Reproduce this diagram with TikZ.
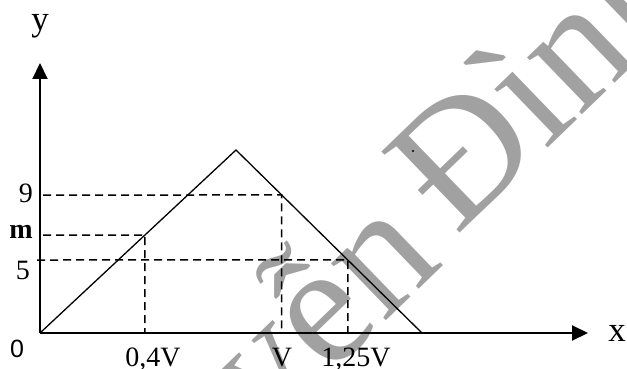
\documentclass[tikz,border=0pt]{standalone}
\usepackage{fontspec}
\setmainfont{Liberation Serif}
\newfontfamily\sansf{Liberation Sans}
\usetikzlibrary{arrows.meta,calc}
\tikzset{
  axisline/.style={line width=2pt,-{Triangle[length=16pt,width=15pt]}},
  graphline/.style={line width=1.3pt,line join=miter},
  guide/.style={line width=1.5pt,dash pattern=on 8pt off 5pt},
  lbl/.style={inner sep=0pt,font=\fontsize{28}{30}\selectfont},
  axlbl/.style={inner sep=0pt,font=\fontsize{35}{36}\selectfont},
  wm/.style={inner sep=0pt,text=black!37,rotate=44,font=\fontsize{172}{174}\selectfont}
}
\begin{document}
\begin{tikzpicture}[x=1pt,y=-1pt]
\useasboundingbox (0,0) rectangle (627,369);
% watermark
\begin{scope}
\clip (0,0) rectangle (627,369);
\coordinate (wmD) at (456,237);
\node[wm,anchor=base east] (wm1) at (445.5,263.7) {Nguyễn};
\node[wm,anchor=base west] (wm2) at (wmD) {Đình};
\fill (413,151) circle (1.1pt);
\end{scope}
% key points
\coordinate (O) at (40,333);
\coordinate (ytip) at (40,63);
\coordinate (xtip) at (588,333);
\coordinate (P) at (236,150);
\coordinate (R) at (422,333);
\coordinate (a9) at ($(P)!0.2459!(R)$);
\coordinate (a5) at ($(P)!0.601!(R)$);
\coordinate (am) at ($(O)!0.5355!(P)$);
% axes
\draw[axisline] (O) -- (ytip);
\draw[axisline] (O) -- (xtip);
% triangle
\draw[graphline] (O) -- (P) -- (R);
% guides
\draw[guide] (43,195) -- (a9) -- (a9 |- O);
\draw[guide] (43,235) -- (am) -- (am |- O);
\draw[guide] (37,260) -- (a5) -- (a5 |- O);
% labels
\node[axlbl,anchor=base] (ly) at (40,31) {y};
\node[axlbl,anchor=base] (lx) at (617,341) {x};
\node[lbl,anchor=base] (l9) at (26,202) {9};
\node[lbl,anchor=base] (lm) at (21,238) {\textbf{m}};
\node[lbl,anchor=base] (l5) at (23,279) {5};
\node[inner sep=0pt,anchor=base,font=\sansf\fontsize{25}{26}\selectfont] (l0) at (17,357) {0};
\node[lbl,anchor=base] (l04) at (153,366.5) {0,4V};
\node[lbl,anchor=base] (lV) at (282,366.5) {V};
\node[lbl,anchor=base] (l125) at (356,366.5) {1,25V};
\end{tikzpicture}
\end{document}
